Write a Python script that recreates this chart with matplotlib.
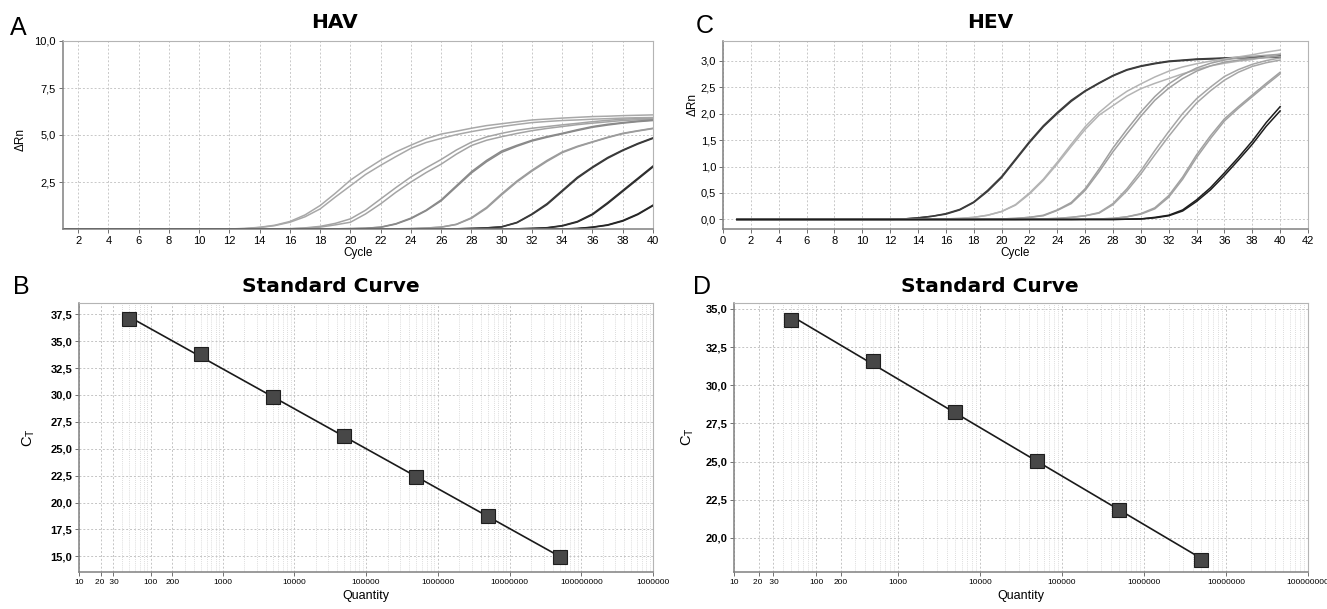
import matplotlib
matplotlib.use("Agg")
import matplotlib.pyplot as plt
import numpy as np
from matplotlib.ticker import FixedLocator, FuncFormatter, NullFormatter

plt.rcParams["font.family"] = ["Liberation Sans", "DejaVu Sans"]

W, H = 1327, 609

# amplification plots: delta Rn per cycle (1..40), two replicates per dilution
cycles = np.arange(1, 41)

hav_1a = [0.0] * 11 + [0.0, 0.03, 0.09, 0.2, 0.4, 0.75, 1.25, 1.9, 2.6, 3.15, 3.66, 4.1, 4.46, 4.8, 5.05,
                       5.2, 5.36, 5.5, 5.6, 5.7, 5.8, 5.85, 5.9, 5.94, 5.98, 6.0, 6.03, 6.05, 6.07]
hav_1b = [0.0] * 11 + [0.0, 0.02, 0.08, 0.18, 0.36, 0.65, 1.07, 1.7, 2.3, 2.9, 3.39, 3.85, 4.29, 4.6, 4.82,
                       5.02, 5.18, 5.32, 5.45, 5.56, 5.66, 5.72, 5.77, 5.8, 5.84, 5.87, 5.9, 5.92, 5.93]
hav_2a = [0.0] * 13 + [0.0, 0.01, 0.02, 0.06, 0.14, 0.3, 0.54, 1.0, 1.6, 2.2, 2.77, 3.25, 3.7, 4.2,
                       4.62, 4.9, 5.09, 5.25, 5.36, 5.45, 5.54, 5.62, 5.71, 5.78, 5.84, 5.87, 5.89]
hav_2b = [0.0] * 13 + [0.0, 0.0, 0.01, 0.04, 0.1, 0.22, 0.36, 0.8, 1.34, 1.95, 2.5, 3.0, 3.45, 3.98,
                       4.44, 4.72, 4.91, 5.08, 5.23, 5.35, 5.45, 5.55, 5.63, 5.7, 5.77, 5.81, 5.84]
hav_3a = [0.0] * 17 + [0.0, 0.01, 0.02, 0.04, 0.1, 0.28, 0.58, 1.0, 1.55, 2.3, 3.05, 3.65, 4.15,
                       4.45, 4.72, 4.92, 5.09, 5.28, 5.45, 5.57, 5.66, 5.74, 5.8]
hav_3b = [0.0] * 17 + [0.0, 0.01, 0.02, 0.04, 0.09, 0.26, 0.55, 0.97, 1.5, 2.24, 2.98, 3.58, 4.08,
                       4.4, 4.68, 4.88, 5.06, 5.24, 5.41, 5.53, 5.63, 5.71, 5.77]
hav_4a = [0.0] * 21 + [0.0, 0.01, 0.02, 0.05, 0.1, 0.25, 0.6, 1.15, 1.88, 2.55, 3.13, 3.65, 4.1,
                       4.4, 4.64, 4.88, 5.09, 5.23, 5.36]
hav_4b = [0.0] * 21 + [0.0, 0.01, 0.02, 0.05, 0.1, 0.24, 0.57, 1.1, 1.82, 2.5, 3.08, 3.6, 4.06,
                       4.37, 4.62, 4.86, 5.07, 5.21, 5.34]
hav_5a = [0.0] * 25 + [0.0, 0.01, 0.03, 0.06, 0.12, 0.35, 0.8, 1.35, 2.05, 2.75, 3.3, 3.8, 4.2, 4.55, 4.85]
hav_5b = [0.0] * 25 + [0.0, 0.01, 0.03, 0.06, 0.11, 0.33, 0.77, 1.3, 2.0, 2.7, 3.26, 3.76, 4.17, 4.52, 4.82]
hav_6a = [0.0] * 29 + [0.0, 0.01, 0.03, 0.07, 0.18, 0.4, 0.8, 1.4, 2.05, 2.7, 3.35]
hav_6b = [0.0] * 29 + [0.0, 0.01, 0.03, 0.06, 0.16, 0.37, 0.76, 1.35, 2.0, 2.65, 3.3]
hav_7a = [0.0] * 33 + [0.0, 0.03, 0.1, 0.22, 0.45, 0.8, 1.27]
hav_7b = [0.0] * 33 + [0.0, 0.02, 0.09, 0.2, 0.42, 0.77, 1.24]

hev_1a = [0.0] * 12 + [0.01, 0.03, 0.06, 0.11, 0.19, 0.33, 0.55, 0.81, 1.14, 1.47, 1.77, 2.02, 2.25, 2.43,
                       2.58, 2.72, 2.83, 2.9, 2.95, 2.99, 3.01, 3.03, 3.04, 3.05, 3.06, 3.07, 3.08, 3.09]
hev_1b = [0.0] * 12 + [0.01, 0.03, 0.06, 0.1, 0.18, 0.32, 0.53, 0.79, 1.12, 1.45, 1.75, 2.0, 2.23, 2.42,
                       2.57, 2.71, 2.82, 2.89, 2.94, 2.98, 3.0, 3.02, 3.03, 3.04, 3.05, 3.05, 3.06, 3.06]
hev_2a = [0.0] * 14 + [0.005, 0.01, 0.02, 0.04, 0.08, 0.15, 0.28, 0.5, 0.76, 1.08, 1.42, 1.75, 2.02,
                       2.24, 2.42, 2.56, 2.69, 2.8, 2.88, 2.94, 2.99, 3.03, 3.07, 3.11, 3.16, 3.2]
hev_2b = [0.0] * 14 + [0.005, 0.01, 0.02, 0.04, 0.08, 0.15, 0.27, 0.48, 0.74, 1.05, 1.38, 1.7, 1.97,
                       2.15, 2.33, 2.47, 2.57, 2.66, 2.75, 2.83, 2.9, 2.95, 2.99, 3.02, 3.07, 3.12]
hev_3a = [0.0] * 18 + [0.005, 0.01, 0.02, 0.04, 0.08, 0.18, 0.32, 0.58, 0.95, 1.35, 1.7, 2.03, 2.32,
                       2.56, 2.73, 2.86, 2.95, 3.01, 3.05, 3.08, 3.1, 3.12]
hev_3b = [0.0] * 18 + [0.005, 0.01, 0.02, 0.04, 0.07, 0.17, 0.3, 0.55, 0.9, 1.28, 1.62, 1.95, 2.25,
                       2.48, 2.66, 2.8, 2.9, 2.97, 3.01, 3.04, 3.06, 3.08]
hev_4a = [0.0] * 21 + [0.005, 0.01, 0.02, 0.04, 0.07, 0.13, 0.3, 0.58, 0.92, 1.3, 1.66, 2.0, 2.28,
                       2.5, 2.7, 2.83, 2.93, 3.0, 3.05]
hev_4b = [0.0] * 21 + [0.005, 0.01, 0.02, 0.04, 0.07, 0.12, 0.28, 0.54, 0.86, 1.22, 1.57, 1.9, 2.2,
                       2.43, 2.63, 2.78, 2.89, 2.96, 3.01]
hev_5a = [0.0] * 25 + [0.005, 0.01, 0.02, 0.05, 0.11, 0.22, 0.45, 0.8, 1.22, 1.58, 1.9, 2.13, 2.35, 2.57, 2.78]
hev_5b = [0.0] * 25 + [0.005, 0.01, 0.02, 0.05, 0.1, 0.2, 0.42, 0.76, 1.17, 1.53, 1.86, 2.1, 2.32, 2.54, 2.75]
hev_6a = [0.0] * 28 + [0.005, 0.01, 0.04, 0.08, 0.18, 0.37, 0.6, 0.88, 1.17, 1.48, 1.83, 2.13]
hev_6b = [0.0] * 28 + [0.005, 0.01, 0.03, 0.07, 0.16, 0.34, 0.56, 0.83, 1.12, 1.42, 1.76, 2.05]

hav_series = [hav_1a, hav_1b, hav_2a, hav_2b, hav_3a, hav_3b, hav_4a, hav_4b,
              hav_5a, hav_5b, hav_6a, hav_6b, hav_7a, hav_7b]
hav_colors = ["#a8a8a8", "#a8a8a8", "#a4a4a4", "#a4a4a4", "#8a8a8a", "#8a8a8a", "#9c9c9c", "#9c9c9c",
              "#3a3a3a", "#3a3a3a", "#2e2e2e", "#2e2e2e", "#262626", "#262626"]
hev_series = [hev_1a, hev_1b, hev_2a, hev_2b, hev_3a, hev_3b, hev_4a, hev_4b,
              hev_5a, hev_5b, hev_6a, hev_6b]
hev_colors = ["#3c3c3c", "#3c3c3c", "#b4b4b4", "#b4b4b4", "#a0a0a0", "#a0a0a0", "#a6a6a6", "#a6a6a6",
              "#a2a2a2", "#a2a2a2", "#1e1e1e", "#1e1e1e"]

# standard curves
quantity_hav = [50, 500, 5000, 50000, 500000, 5000000, 50000000]
ct_hav = [37.05, 33.78, 29.83, 26.2, 22.38, 18.75, 14.9]
quantity_hev = [50, 500, 5000, 50000, 500000, 5000000]
ct_hev = [34.3, 31.6, 28.25, 25.05, 21.85, 18.55]

qty_ticks_hav = [10, 20, 30, 100, 200, 1e3, 1e4, 1e5, 1e6, 1e7, 1e8, 1e9]
qty_labels_hav = ["10", "20 ", " 30", "100", "200", "1000", "10000", "100000", "1000000",
                  "10000000", "100000000", "1000000"]
qty_ticks_hev = [10, 20, 30, 100, 200, 1e3, 1e4, 1e5, 1e6, 1e7, 1e8]
qty_labels_hev = ["10", "20 ", " 30", "100", "200", "1000", "10000", "100000", "1000000",
                  "10000000", "100000000"]


def comma(v, _pos):
    return f"{v:.1f}".replace(".", ",")


def px_axes(fig, left, top, right, bottom):
    return fig.add_axes([left / W, 1 - bottom / H, (right - left) / W, (bottom - top) / H])


def frame(ax):
    for side in ("top", "right"):
        ax.spines[side].set_color("#b4b4b4")
    for side in ("left", "bottom"):
        ax.spines[side].set_color("#808080")
        ax.spines[side].set_linewidth(1.1)
    ax.tick_params(colors="#707070", labelcolor="black", length=3, width=0.7, pad=2)
    ax.set_axisbelow(True)


def amplification(ax, series, colors, xlim, ylim, xticks, yticks):
    for values, color in zip(series, colors):
        ax.plot(cycles, values, color=color, lw=1.1, solid_joinstyle="round")
    ax.set_xlim(*xlim)
    ax.set_ylim(*ylim)
    ax.xaxis.set_major_locator(FixedLocator(xticks))
    ax.yaxis.set_major_locator(FixedLocator(yticks))
    ax.yaxis.set_major_formatter(FuncFormatter(comma))
    ax.grid(True, color="#c8c8c8", ls=(0, (2, 2)), lw=0.7)
    ax.tick_params(labelsize=8)
    ax.set_xlabel("Cycle", fontsize=8.5, labelpad=1)
    frame(ax)


def standard(ax, qty, ct, xlim, ylim, yticks, xticks, xlabels):
    logq = np.log10(qty)
    slope, icpt = np.polyfit(logq, ct, 1)
    ends = np.array([qty[0], qty[-1]], dtype=float)
    ax.plot(ends, slope * np.log10(ends) + icpt, color="#1a1a1a", lw=1.2)
    ax.plot(qty, ct, ls="none", marker="s", ms=9.5, mfc="#474747", mec="#1e1e1e", mew=0.8)
    ax.set_xscale("log")
    ax.set_xlim(*xlim)
    ax.set_ylim(*ylim)
    ax.set_xticks(xticks, xlabels)
    minor = [m * 10 ** e for e in range(1, 9) for m in range(2, 10)]
    ax.xaxis.set_minor_locator(FixedLocator(minor))
    ax.xaxis.set_minor_formatter(NullFormatter())
    ax.yaxis.set_major_locator(FixedLocator(yticks))
    ax.yaxis.set_major_formatter(FuncFormatter(comma))
    ax.grid(True, which="major", color="#c4c4c4", ls=(0, (2, 2)), lw=0.7)
    ax.grid(True, which="minor", axis="x", color="#d0d0d0", ls=(0, (1, 1.5)), lw=0.6)
    frame(ax)
    ax.tick_params(axis="x", which="major", labelsize=6)
    ax.tick_params(axis="x", which="minor", length=0)
    ax.tick_params(axis="y", labelsize=8)
    for lbl in ax.get_yticklabels():
        lbl.set_fontweight("bold")
    ax.set_xlabel("Quantity", fontsize=9, labelpad=3)


fig = plt.figure(figsize=(W / 100, H / 100), dpi=100)

ax_a = px_axes(fig, 63, 41, 653, 229)
amplification(ax_a, hav_series, hav_colors, (1, 40), (0, 10),
              list(range(2, 41, 2)), [2.5, 5.0, 7.5, 10.0])

ax_c = px_axes(fig, 723, 41, 1308, 229)
amplification(ax_c, hev_series, hev_colors, (0, 42), (-0.18, 3.37),
              list(range(0, 43, 2)), [0.0, 0.5, 1.0, 1.5, 2.0, 2.5, 3.0])

ax_b = px_axes(fig, 79, 303, 653, 572)
standard(ax_b, quantity_hav, ct_hav, (10, 1e9), (13.54, 38.55),
         [15.0, 17.5, 20.0, 22.5, 25.0, 27.5, 30.0, 32.5, 35.0, 37.5], qty_ticks_hav, qty_labels_hav)

ax_d = px_axes(fig, 734, 303, 1308, 572)
standard(ax_d, quantity_hev, ct_hev, (10, 1e8), (17.77, 35.39),
         [20.0, 22.5, 25.0, 27.5, 30.0, 32.5, 35.0], qty_ticks_hev, qty_labels_hev)


def ftext(x, y, s, **kw):
    fig.text(x / W, 1 - y / H, s, ha="center", va="center", **kw)


ftext(335, 23, "HAV", fontsize=14.5, fontweight="bold", family="DejaVu Sans")
ftext(990, 23, "HEV", fontsize=14.5, fontweight="bold", family="DejaVu Sans")
ftext(331, 287, "Standard Curve", fontsize=14.5, fontweight="bold", family="DejaVu Sans")
ftext(990, 287, "Standard Curve", fontsize=14.5, fontweight="bold", family="DejaVu Sans")

ftext(18, 28, "A", fontsize=18)
ftext(705, 26, "C", fontsize=18)
ftext(21, 287, "B", fontsize=18)
ftext(702, 287, "D", fontsize=18)

ftext(21, 140, "ΔRn", fontsize=8.5, rotation=90)
ftext(693, 104, "ΔRn", fontsize=8.5, rotation=90)
ftext(29, 438, r"C$_\mathregular{T}$", fontsize=10.5, rotation=90)
ftext(688, 437, r"C$_\mathregular{T}$", fontsize=10.5, rotation=90)

fig.savefig("out.png", dpi=100, facecolor="white")
